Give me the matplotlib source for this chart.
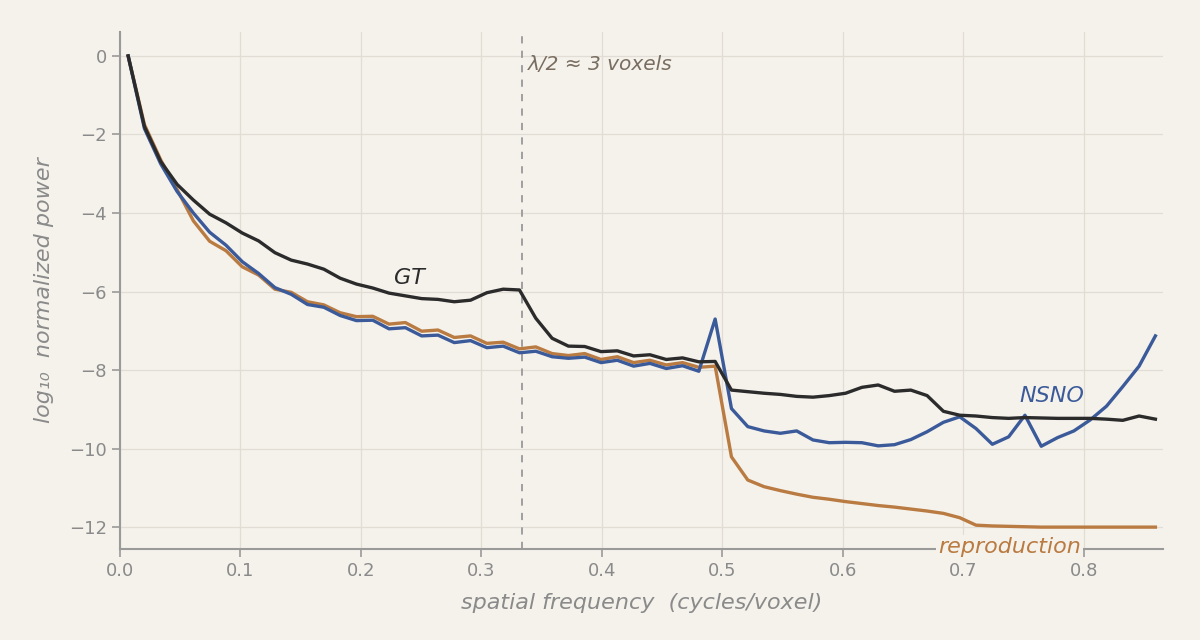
import numpy as np
import matplotlib
matplotlib.use("Agg")
import matplotlib.pyplot as plt

# radial frequency bins (centers), 64 bins up to sqrt(3)/2
n_bins = 64
f_max = np.sqrt(3) / 2
freq = (np.arange(n_bins) + 0.5) * f_max / n_bins

gt = [0.0, -1.8, -2.69, -3.27, -3.67, -4.03, -4.25, -4.51, -4.71, -5.01,
      -5.2, -5.3, -5.43, -5.66, -5.81, -5.91, -6.04, -6.11, -6.18, -6.2,
      -6.26, -6.22, -6.03, -5.94, -5.96, -6.68, -7.19, -7.39, -7.4, -7.53,
      -7.51, -7.64, -7.61, -7.73, -7.69, -7.79, -7.78, -8.51, -8.55, -8.59,
      -8.62, -8.67, -8.69, -8.65, -8.59, -8.44, -8.38, -8.54, -8.51, -8.65,
      -9.05, -9.15, -9.17, -9.21, -9.23, -9.21, -9.22, -9.23, -9.23, -9.23,
      -9.25, -9.28, -9.17, -9.25]

nsno = [0.0, -1.85, -2.75, -3.45, -4.0, -4.49, -4.82, -5.24, -5.54, -5.9,
        -6.07, -6.33, -6.4, -6.61, -6.74, -6.73, -6.95, -6.92, -7.13, -7.11,
        -7.3, -7.25, -7.43, -7.39, -7.56, -7.52, -7.66, -7.7, -7.67, -7.81,
        -7.75, -7.9, -7.83, -7.96, -7.89, -8.03, -6.7, -8.98, -9.44, -9.55,
        -9.61, -9.55, -9.78, -9.85, -9.84, -9.85, -9.93, -9.9, -9.77, -9.57,
        -9.33, -9.19, -9.49, -9.89, -9.7, -9.15, -9.94, -9.72, -9.55, -9.27,
        -8.92, -8.42, -7.9, -7.13]

repro = [0.0, -1.75, -2.65, -3.4, -4.2, -4.72, -4.96, -5.37, -5.58, -5.94,
         -6.02, -6.26, -6.34, -6.54, -6.64, -6.63, -6.83, -6.79, -7.01, -6.98,
         -7.17, -7.13, -7.32, -7.29, -7.46, -7.41, -7.58, -7.63, -7.58, -7.73,
         -7.66, -7.81, -7.75, -7.87, -7.81, -7.93, -7.9, -10.21, -10.8, -10.97,
         -11.07, -11.16, -11.24, -11.29, -11.35, -11.4, -11.45, -11.49, -11.54, -11.59,
         -11.65, -11.76, -11.95, -11.97, -11.98, -11.99, -12.0, -12.0, -12.0, -12.0,
         -12.0, -12.0, -12.0, -12.0]

bg = "#f5f2ec"
c_gt = "#2b2b2b"
c_nsno = "#3b5a9a"
c_rep = "#b97b41"
c_axis = "#9a9a9a"
c_text = "#8a8a8a"

fig = plt.figure(figsize=(12, 6.4), dpi=100, facecolor=bg)
ax = fig.add_axes([0.1, 0.142, 0.8692, 0.808])
ax.set_facecolor(bg)

ax.plot(freq, repro, color=c_rep, lw=2.4, zorder=3)
ax.plot(freq, nsno, color=c_nsno, lw=2.4, zorder=4)
ax.plot(freq, gt, color=c_gt, lw=2.4, zorder=5)

ax.axvline(1 / 3, color="#999999", lw=1.3, ls=(0, (4, 4)), zorder=2)

ax.set_xlim(0, 0.8656)
ax.set_ylim(-12.56, 0.61)
ax.set_xticks([0.0, 0.1, 0.2, 0.3, 0.4, 0.5, 0.6, 0.7, 0.8])
ax.set_yticks([0, -2, -4, -6, -8, -10, -12])

ax.grid(True, color="#e1ddd5", lw=0.9, zorder=0)
ax.set_axisbelow(True)
for s in ["top", "right"]:
    ax.spines[s].set_visible(False)
for s in ["left", "bottom"]:
    ax.spines[s].set_color(c_axis)
    ax.spines[s].set_linewidth(1.5)
ax.tick_params(axis="both", colors=c_axis, labelcolor=c_text, labelsize=13,
               length=6, width=1.2)

ax.set_xlabel("spatial frequency  (cycles/voxel)", fontsize=16, style="italic",
              color=c_text, labelpad=9)
ax.set_ylabel("log\u2081\u2080  normalized power", fontsize=16, style="italic",
              color=c_text, labelpad=11)

ax.text(0.3385, -0.23, "\u03bb/2 \u2248 3 voxels", fontsize=14.5, style="italic",
        color="#786d60", ha="left", va="center")
ax.text(0.24, -5.66, "GT", fontsize=16, style="italic", color=c_gt,
        ha="center", va="center", zorder=6)
ax.text(0.773, -8.66, "NSNO", fontsize=16, style="italic", color=c_nsno,
        ha="center", va="center", zorder=6)
ax.text(0.7385, -12.5, "reproduction", fontsize=16, style="italic", color=c_rep,
        ha="center", va="center", zorder=6, clip_on=False,
        bbox=dict(facecolor=bg, edgecolor="none", pad=1.5))

fig.savefig("out.png", dpi=100, facecolor=bg)
